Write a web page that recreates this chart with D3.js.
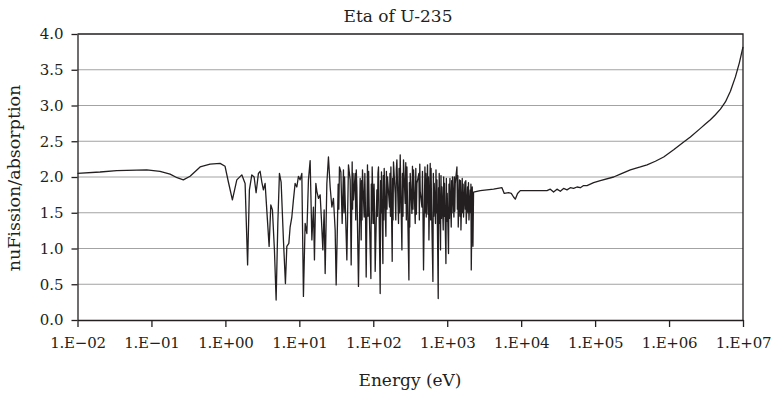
<!DOCTYPE html>
<html>
<head>
<meta charset="utf-8">
<script src="https://cdn.jsdelivr.net/npm/d3@7"></script>
<style>
  body { margin: 0; background: #fff; }
  svg text { font-family: "DejaVu Serif", serif; fill: #231f20; }
</style>
</head>
<body>
<svg id="chart" width="771" height="393"></svg>
<script>
var chartTitle = "Eta of U-235";
var xLabel = "Energy (eV)";
var yLabel = "nuFission/absorption";

var xTicks = [1e-2, 1e-1, 1e0, 1e1, 1e2, 1e3, 1e4, 1e5, 1e6, 1e7];
var yTicks = [0, 0.5, 1, 1.5, 2, 2.5, 3, 3.5, 4];

// energy (eV)
var energy = [
  0.01, 0.0202, 0.0339, 0.0864, 0.1307, 0.1786, 0.222, 0.270, 0.333, 0.455, 0.621, 0.848, 0.99, 1.098, 1.244, 1.427, 1.667, 1.848,
  1.997, 2.112, 2.277, 2.446, 2.603, 2.797, 2.949, 3.109, 3.268, 3.445, 3.702, 3.903, 4.115, 4.326, 4.605, 4.855, 5.119, 5.381, 5.673, 6.094,
  6.486, 6.775, 7.211, 7.509, 7.917, 8.320, 8.773, 9.252, 9.725,
  10.25, 10.81, 11.36, 11.98, 12.64, 13.28, 14.0, 14.77, 15.52, 16.01, 16.72, 17.26, 18.14, 19.12, 19.91, 20.80, 21.66, 22.35, 23.56, 24.76,
  26.11, 27.53, 28.94, 30.51, 31.48, 32.78, 34.88, 36.44, 37.95, 39.52, 41.66, 43.93, 46.18, 48.70, 50.23, 51.83, 53.97, 56.90, 59.99, 63.07,
  66.50, 68.61, 71.44, 75.32, 80.17, 83.48, 88.02, 92.82, 96.65,
  100.6, 106.1, 111.9, 117.6, 124.0, 129.1, 134.9, 140.5, 148.1, 155.7, 165.7, 173.1, 180.3, 187.7, 197.9, 208.6, 219.4, 231.3, 243.9, 256.3,
  270.2, 284.9, 303.3, 315.8, 333.1, 350.1, 369.2, 389.2, 414.2, 431.3, 454.8, 478.1, 499.4, 520.1, 541.5, 565.6, 588.8, 613.2, 640.5, 667.0,
  694.6, 725.6, 755.6, 779.5, 811.7, 847.9, 883.0, 919.5, 960.5,
  1000, 1041, 1088, 1133, 1180, 1232, 1283, 1353, 1409, 1467, 1533, 1596, 1662, 1737, 1808, 1883, 1967, 2048, 2114, 2181,
  2228, 2270, 2796, 4232, 5499, 5905, 6753, 7347, 7894, 8323, 8940, 9725,
  22350, 24760, 27450, 30510, 33820, 37480, 41660, 46180, 51190, 56900, 63080, 69900, 77700, 86130, 95460, 117600, 178000, 219400, 299600,
  409100, 504100, 652800, 845700, 1.154e6, 1.577e6, 1.943e6, 2.653e6, 3.099e6, 3.622e6, 4.233e6, 4.948e6, 5.781e6, 6.757e6, 7.897e6,
  8.944e6, 1e7
];

// eta = nu*sigma_f / sigma_a
var eta = [
  2.05, 2.07, 2.09, 2.10, 2.08, 2.04, 1.99, 1.96, 2.01, 2.14, 2.18, 2.19, 2.15, 1.93, 1.68, 1.96, 2.03, 1.91,
  0.77, 1.82, 2.03, 2.00, 1.78, 2.05, 2.08, 1.93, 1.82, 1.91, 1.40, 1.03, 1.61, 1.54, 0.98, 0.28, 1.35, 2.05, 1.93, 1.12,
  0.51, 1.03, 1.07, 1.30, 1.44, 1.68, 1.91, 1.86, 2.01,
  1.96, 2.05, 0.33, 1.35, 1.21, 1.96, 2.23, 1.12, 1.58, 0.84, 1.91, 1.80, 1.70, 1.75, 1.40, 0.98, 1.54, 0.65, 1.91, 2.28,
  1.86, 1.58, 1.70, 1.26, 0.49, 1.35, 2.14, 2.07, 1.35, 2.10, 1.68, 0.84, 2.17, 1.96, 0.77, 2.21, 1.68, 2.05, 1.86, 0.47,
  1.98, 1.12, 2.10, 1.44, 0.60, 2.17, 1.58, 0.58, 2.14,
  1.35, 0.68, 1.82, 2.14, 0.37, 2.07, 0.79, 2.12, 1.17, 2.00, 1.58, 2.14, 0.82, 2.21, 1.77, 2.24, 1.35, 2.31, 0.98, 2.24,
  1.63, 2.14, 0.56, 2.05, 1.49, 2.10, 1.35, 1.91, 2.05, 1.80, 1.58, 0.70, 2.14, 1.44, 2.17, 1.12, 2.19, 1.63, 0.54, 1.91,
  1.35, 1.96, 0.30, 2.05, 0.98, 1.86, 1.26, 1.91, 0.79,
  1.77, 0.93, 1.98, 1.30, 2.00, 1.44, 1.91, 2.14, 1.30, 1.96, 1.26, 1.98, 1.44, 1.93, 1.35, 1.86, 1.40, 1.82, 0.70, 1.86,
  1.03, 1.79, 1.81, 1.83, 1.85, 1.77, 1.78, 1.77, 1.72, 1.69, 1.77, 1.81,
  1.81, 1.83, 1.79, 1.83, 1.80, 1.84, 1.82, 1.85, 1.84, 1.86, 1.85, 1.88, 1.88, 1.90, 1.92, 1.95, 2.00, 2.04, 2.10,
  2.14, 2.17, 2.22, 2.28, 2.38, 2.49, 2.56, 2.68, 2.74, 2.80, 2.87, 2.95, 3.05, 3.20, 3.40,
  3.60, 3.82
];

// extra resolved-resonance wiggles in the dense part of the band
var fineEnergy = [
  33.5, 34.2, 40.2, 40.9, 52.5, 53.2, 57.9, 58.9, 69.5, 70.5, 76.9, 78.5, 85.0, 86.5, 94.1, 95.4,
  102.4, 104.3, 113.8, 115.7, 125.7, 127.4, 136.8, 138.6, 150.6, 153.2, 168.2, 170.6, 182.8, 185.2, 201.5, 205.0,
  223.4, 227.3, 248.0, 252.2, 275.1, 280.0, 307.5, 311.6, 338.8, 344.4, 375.9, 382.5, 419.9, 425.6, 462.6, 470.3,
  506.3, 513.2, 549.5, 557.6, 596.9, 605.1, 649.3, 658.2, 704.9, 715.3, 763.6, 771.5, 823.8, 835.8, 895.2, 907.3,
  973.7, 986.8, 1057, 1072, 1149, 1164, 1249, 1266, 1372, 1390, 1489, 1511, 1618, 1640, 1761, 1784, 1911, 1939,
  2070, 2092
];
var fineEta = [
  1.90, 1.55, 1.50, 2.00, 1.55, 2.05, 1.40, 2.10, 1.95, 1.40, 2.05, 1.50, 1.45, 2.08, 1.90, 1.35,
  1.90, 1.50, 1.45, 2.05, 1.95, 1.50, 2.02, 1.40, 2.08, 1.55, 2.05, 1.45, 1.98, 1.40, 1.40, 2.10,
  2.12, 1.50, 2.05, 1.45, 2.20, 1.40, 1.92, 1.30, 2.15, 1.55, 2.12, 1.48, 1.40, 2.18, 2.08, 1.45,
  1.50, 2.05, 1.48, 2.00, 1.40, 2.12, 2.05, 1.45, 2.10, 1.50, 1.85, 1.35, 2.02, 1.42, 2.00, 1.45,
  1.98, 1.38, 1.90, 1.42, 1.95, 1.50, 2.00, 1.52, 1.55, 2.02, 1.45, 1.95, 1.50, 1.90, 1.55, 1.95, 1.50, 1.92,
  1.50, 1.90
];

var margin = { left: 77.5, right: 743, top: 34, bottom: 320 };

var svg = d3.select("#chart");

var x = d3.scaleLog().domain([1e-2, 1e7]).range([margin.left, margin.right]);
var y = d3.scaleLinear().domain([0, 4]).range([margin.bottom, margin.top]);

var fmtE = function(d) {
  var e = Math.round(Math.log10(d));
  return "1.E" + (e < 0 ? "\u2212" : "+") + String(Math.abs(e)).padStart(2, "0");
};

// gridlines
svg.append("g")
  .selectAll("line")
  .data(yTicks.filter(function(d) { return d > 0 && d < 4; }))
  .join("line")
  .attr("x1", margin.left).attr("x2", margin.right)
  .attr("y1", function(d) { return y(d); })
  .attr("y2", function(d) { return y(d); })
  .attr("stroke", "#a3a3a3")
  .attr("stroke-width", 1);

// data line: merge the main points with the fine wiggles, sorted by energy
var pts = energy.map(function(e, i) { return [e, eta[i]]; })
  .concat(fineEnergy.map(function(e, i) { return [e, fineEta[i]]; }))
  .sort(function(a, b) { return a[0] - b[0]; });

var line = d3.line()
  .x(function(d) { return x(d[0]); })
  .y(function(d) { return y(d[1]); });

svg.append("path")
  .datum(pts)
  .attr("d", line)
  .attr("fill", "none")
  .attr("stroke", "#231f20")
  .attr("stroke-width", 1.3)
  .attr("stroke-linejoin", "round");

// frame top and right
svg.append("path")
  .attr("d", "M" + margin.left + "," + margin.top + "H" + margin.right + "V" + margin.bottom)
  .attr("fill", "none")
  .attr("stroke", "#231f20")
  .attr("stroke-width", 1.3);

var yAxis = svg.append("g")
  .attr("transform", "translate(" + margin.left + ",0)")
  .call(d3.axisLeft(y).tickValues(yTicks).tickFormat(d3.format(".1f")).tickSize(6).tickSizeOuter(0).tickPadding(8));

var xAxis = svg.append("g")
  .attr("transform", "translate(0," + margin.bottom + ")")
  .call(d3.axisBottom(x).tickValues(xTicks).tickFormat(fmtE).tickSize(7).tickSizeOuter(0).tickPadding(10));

[yAxis, xAxis].forEach(function(g) {
  g.select(".domain").attr("stroke", "#231f20").attr("stroke-width", 1.3);
  g.selectAll(".tick line").attr("stroke", "#231f20").attr("stroke-width", 1.3);
  g.selectAll("text").attr("font-family", "DejaVu Serif").attr("font-size", 15).attr("fill", "#231f20");
});
xAxis.selectAll("text").attr("letter-spacing", "-0.25px");

svg.append("text")
  .attr("x", 398).attr("y", 22)
  .attr("text-anchor", "middle")
  .attr("font-size", 17)
  .text(chartTitle);

svg.append("text")
  .attr("x", 410).attr("y", 386)
  .attr("text-anchor", "middle")
  .attr("font-size", 17)
  .text(xLabel);

svg.append("text")
  .attr("transform", "translate(20,178) rotate(-90)")
  .attr("text-anchor", "middle")
  .attr("font-size", 17.5)
  .text(yLabel);
</script>
</body>
</html>
